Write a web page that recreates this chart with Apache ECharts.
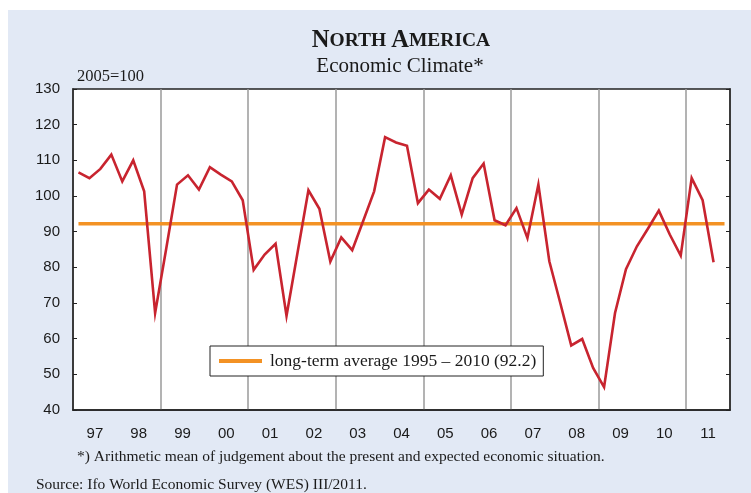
<!DOCTYPE html>
<html>
<head>
<meta charset="utf-8">
<script src="https://cdn.jsdelivr.net/npm/echarts@6/dist/echarts.min.js"></script>
<style>
  html, body { margin: 0; padding: 0; background: #fff; }
  #chart { width: 751px; height: 493px; }
</style>
</head>
<body>
<div id="chart"></div>
<script>
// quarterly economic climate, 1997 Q1 .. 2011 Q3 (2005 = 100)
const years = [1997, 1998, 1999, 2000, 2001, 2002, 2003, 2004, 2005, 2006, 2007, 2008, 2009, 2010, 2011]
const yearLabels = years.map(y => String(y % 100).padStart(2, '0'))
const quarters = years.flatMap(y => [1, 2, 3, 4].map(q => `${y}Q${q}`))

const climate = [
  106.6, 105.0, 107.6, 111.6,
  104.1, 110.0, 101.3, 67.2,
  85.0, 103.2, 105.8, 101.8,
  108.1, 106.0, 104.1, 98.8,
  79.3, 83.6, 86.6, 66.4,
  84.0, 101.6, 96.4, 81.6,
  88.4, 84.8, 93.0, 101.3,
  116.5, 115.0, 114.1, 98.0,
  101.8, 99.2, 105.8, 94.8,
  105.0, 109.1, 93.2, 91.8,
  96.6, 88.2, 103.2, 81.7,
  70.0, 58.1, 59.9, 51.8,
  46.4, 67.2, 79.5, 85.9,
  90.8, 95.9, 89.2, 83.3,
  105.0, 98.8, 81.4,
]
const longTermAvg = 92.2
const avgLabel = 'long-term average 1995 \u2013 2010 (92.2)'

const serif = '"Liberation Serif", "Times New Roman", serif'
const sans = '"Liberation Sans", Arial, sans-serif'

const chart = echarts.init(document.getElementById('chart'))

chart.setOption({
  animation: false,
  backgroundColor: '#fff',
  title: [
    {
      text: '{a|N}{b|ORTH} {a|A}{b|MERICA}',
      left: 396,
      top: 23,
      textAlign: 'center',
      textStyle: {
        rich: {
          a: { fontFamily: serif, fontSize: 24.5, color: '#1a1a1a' },
          b: { fontFamily: serif, fontSize: 19.5, color: '#1a1a1a' },
        },
      },
    },
    {
      text: 'Economic Climate*',
      left: 395,
      top: 51,
      textAlign: 'center',
      textStyle: { fontFamily: serif, fontSize: 21, fontWeight: 'normal', color: '#1a1a1a' },
    },
  ],
  graphic: [
    { type: 'rect', z: -10, shape: { x: 8, y: 10, width: 743, height: 483 }, style: { fill: '#e2e9f5' } },
    { type: 'text', left: 77, top: 68, style: { text: '2005=100', font: `16.5px ${serif}`, fill: '#1a1a1a' } },
    { type: 'text', left: 77, top: 449, style: { text: '*) Arithmetic mean of judgement about the present and expected economic situation.', font: `15.5px ${serif}`, fill: '#1a1a1a' } },
    { type: 'text', left: 36, top: 477, style: { text: 'Source: Ifo World Economic Survey (WES) III/2011.', font: `15.5px ${serif}`, fill: '#1a1a1a' } },
  ],
  legend: {
    data: [avgLabel],
    left: 210,
    top: 346,
    padding: [6, 7, 6, 9],
    backgroundColor: '#fff',
    borderColor: '#222',
    borderWidth: 1,
    icon: 'rect',
    itemWidth: 43,
    itemHeight: 4,
    textStyle: { fontFamily: serif, fontSize: 17.5, color: '#1a1a1a', padding: [0, 0, 0, 3] },
  },
  grid: {
    left: 73,
    right: 21,
    top: 89,
    bottom: 83,
    show: true,
    backgroundColor: '#fff',
    borderColor: '#222',
    borderWidth: 1.5,
  },
  xAxis: [
    {
      type: 'category',
      data: quarters,
      boundaryGap: true,
      position: 'bottom',
      axisLine: { lineStyle: { color: '#222', width: 1.5 } },
      axisTick: { inside: true, length: 4, interval: i => i % 4 === 0, lineStyle: { color: '#222' } },
      axisLabel: { show: false },
      splitLine: { show: true, interval: i => i % 8 === 0, lineStyle: { color: '#9a9a9a', width: 1.5 } },
    },
    {
      type: 'category',
      data: yearLabels,
      boundaryGap: true,
      position: 'bottom',
      axisLine: { show: false },
      axisTick: { show: false },
      axisLabel: { fontFamily: sans, fontSize: 15, color: '#1a1a1a', margin: 16 },
      splitLine: { show: false },
    },
  ],
  yAxis: [
    {
      type: 'value',
      min: 40,
      max: 130,
      interval: 10,
      position: 'left',
      axisLine: { show: true, lineStyle: { color: '#222', width: 1.5 } },
      axisTick: { show: true, inside: true, length: 4, lineStyle: { color: '#222' } },
      axisLabel: { fontFamily: sans, fontSize: 15, color: '#1a1a1a', margin: 13 },
      splitLine: { show: false },
    },
    {
      type: 'value',
      min: 40,
      max: 130,
      interval: 10,
      position: 'right',
      axisLine: { show: true, lineStyle: { color: '#222', width: 1.5 } },
      axisTick: { show: true, inside: true, length: 4, lineStyle: { color: '#222' } },
      axisLabel: { show: false },
      splitLine: { show: false },
    },
  ],
  series: [
    {
      name: avgLabel,
      type: 'line',
      data: quarters.map(() => longTermAvg),
      symbol: 'none',
      z: 2,
      lineStyle: { color: '#f39224', width: 3.5 },
      itemStyle: { color: '#f39224' },
    },
    {
      name: 'Economic Climate',
      type: 'line',
      data: climate,
      symbol: 'none',
      z: 3,
      lineStyle: { color: '#c8242f', width: 2.6, join: 'miter' },
      itemStyle: { color: '#c8242f' },
    },
  ],
})
</script>
</body>
</html>
